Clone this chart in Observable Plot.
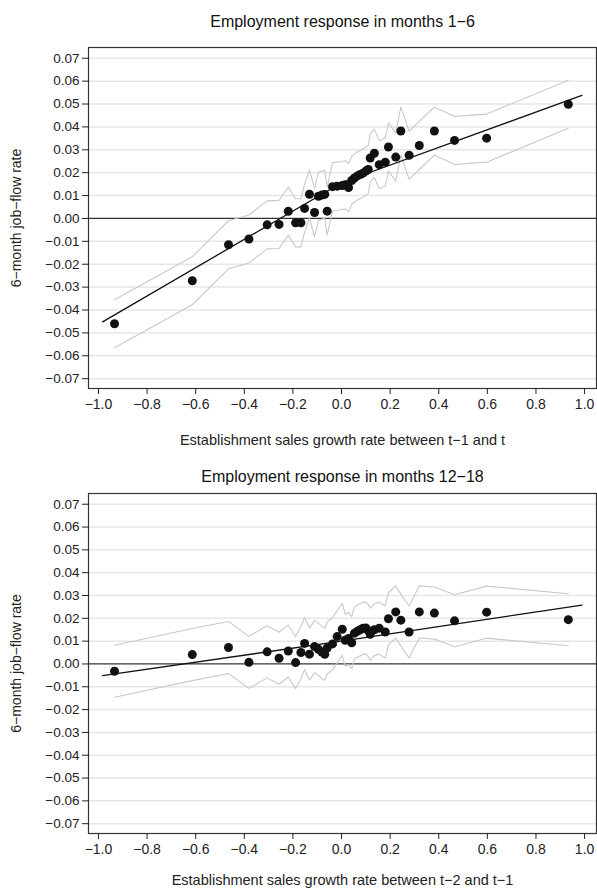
<!DOCTYPE html>
<html>
<head>
<meta charset="utf-8">
<script src="https://cdn.jsdelivr.net/npm/d3@7"></script>
<script src="https://cdn.jsdelivr.net/npm/@observablehq/plot@0.6"></script>
<style>
  html, body { margin: 0; padding: 0; background: #fff; }
  #chart { width: 597px; height: 888px; position: relative; }
  #chart svg { display: block; }
</style>
</head>
<body>
<div id="chart"></div>
<script>
// ---- data ----
const binX = [-0.934, -0.614, -0.465, -0.381, -0.306, -0.257, -0.219, -0.189, -0.167, -0.152,
  -0.132, -0.111, -0.095, -0.081, -0.069, -0.059, -0.037, -0.018, 0.003, 0.015,
  0.029, 0.042, 0.053, 0.065, 0.077, 0.088, 0.100, 0.110, 0.118, 0.135,
  0.155, 0.180, 0.193, 0.223, 0.244, 0.278, 0.320, 0.382, 0.465, 0.597, 0.933];

const topY = [-0.0460, -0.0272, -0.0115, -0.0090, -0.0028, -0.0026, 0.0031, -0.0019, -0.0019, 0.0044,
  0.0106, 0.0026, 0.0097, 0.0102, 0.0105, 0.0032, 0.0139, 0.0141, 0.0144, 0.0147,
  0.0135, 0.0166, 0.0177, 0.0186, 0.0192, 0.0198, 0.0207, 0.0214, 0.0264, 0.0285,
  0.0235, 0.0246, 0.0312, 0.0268, 0.0382, 0.0276, 0.0319, 0.0382, 0.0341, 0.0351, 0.0499];

const bottomY = [-0.0032, 0.0041, 0.0072, 0.0007, 0.0053, 0.0025, 0.0057, 0.0006, 0.0050, 0.0090,
  0.0043, 0.0076, 0.0064, 0.0052, 0.0042, 0.0070, 0.0088, 0.0120, 0.0152, 0.0104,
  0.0112, 0.0093, 0.0135, 0.0143, 0.0150, 0.0156, 0.0158, 0.0146, 0.0130, 0.0150,
  0.0157, 0.0140, 0.0198, 0.0228, 0.0192, 0.0140, 0.0228, 0.0223, 0.0189, 0.0227, 0.0194];

// confidence band half-widths (constant in the reference)
const ciTop = 0.0105;
const ciBottom = 0.0114;

// fitted line vertices
const fitX = [-0.983, 0, 0.989];
const fitTop = [-0.0452, 0.0156, 0.0538];
const fitBottom = [-0.0051, 0.0100, 0.0258];

const xTicks = [-1.0, -0.8, -0.6, -0.4, -0.2, 0.0, 0.2, 0.4, 0.6, 0.8, 1.0];
const yTicks = [-0.07, -0.06, -0.05, -0.04, -0.03, -0.02, -0.01, 0.00, 0.01, 0.02, 0.03, 0.04, 0.05, 0.06, 0.07];

const titles = ["Employment response in months 1\u22126", "Employment response in months 12\u221218"];
const xLabels = ["Establishment sales growth rate between t\u22121 and t", "Establishment sales growth rate between t\u22122 and t\u22121"];
const yLabel = "6\u2212month job\u2212flow rate";

const FONT = "'Liberation Sans', Arial, Helvetica, sans-serif";

function panel({ys, ci, fit, title, xLabel, height, marginBottom, titleDy, xLabelDy}) {
  const pts = binX.map((x, i) => ({x, y: ys[i]}));
  const upper = binX.map((x, i) => ({x, y: ys[i] + ci}));
  const lower = binX.map((x, i) => ({x, y: ys[i] - ci}));
  const fitPts = fitX.map((x, i) => ({x, y: fit[i]}));
  return Plot.plot({
    width: 597,
    height,
    marginLeft: 88,
    marginRight: 1,
    marginTop: 47,
    marginBottom,
    style: {fontFamily: FONT, fontSize: "14px", color: "#222", background: "#fff", overflow: "visible"},
    x: {domain: [-1.041, 1.049]},
    y: {domain: [-0.0743, 0.0747]},
    marks: [
      Plot.ruleY(yTicks.filter(d => d !== 0), {stroke: "#e6e6e6", strokeWidth: 1.5}),
      Plot.ruleY([0], {stroke: "#333", strokeWidth: 1.2}),
      Plot.line(upper, {x: "x", y: "y", stroke: "#c9c9c9", strokeWidth: 1.1}),
      Plot.line(lower, {x: "x", y: "y", stroke: "#c9c9c9", strokeWidth: 1.1}),
      Plot.line(fitPts, {x: "x", y: "y", stroke: "#111", strokeWidth: 1.3}),
      Plot.dot(pts, {x: "x", y: "y", r: 4.5, fill: "#111", stroke: "none"}),
      Plot.frame({stroke: "#333", strokeWidth: 1.2}),
      Plot.axisX({ticks: xTicks, tickFormat: d3.format(".1f"), tickSize: 6, tickPadding: 5, label: null, fontSize: 14}),
      Plot.axisY({ticks: yTicks, tickFormat: d3.format(".2f"), tickSize: 6, tickPadding: 3, label: null, fontSize: 13.5}),
      Plot.text([title], {frameAnchor: "top", dy: titleDy, fontSize: 16, lineAnchor: "middle", fill: "#111"}),
      Plot.text([xLabel], {frameAnchor: "bottom", dy: xLabelDy, fontSize: 14.5, lineAnchor: "middle", fill: "#222"}),
      Plot.text([yLabel], {frameAnchor: "left", dx: -72, rotate: -90, fontSize: 14, lineAnchor: "middle", textAnchor: "middle", fill: "#222"})
    ]
  });
}

const chart = document.getElementById("chart");
chart.appendChild(panel({ys: topY, ci: ciTop, fit: fitTop, title: titles[0], xLabel: xLabels[0],
  height: 446, marginBottom: 58, titleDy: -26, xLabelDy: 52}));
chart.appendChild(panel({ys: bottomY, ci: ciBottom, fit: fitBottom, title: titles[1], xLabel: xLabels[1],
  height: 442, marginBottom: 55, titleDy: -17, xLabelDy: 47}));
</script>
</body>
</html>
